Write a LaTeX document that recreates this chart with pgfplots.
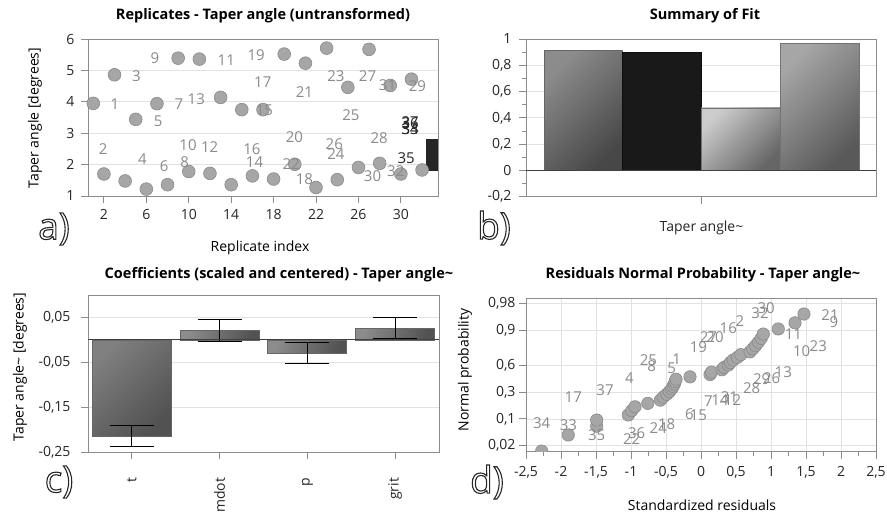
\documentclass[border=0pt]{standalone}
\usepackage{fontspec}
\setmainfont{Open Sans}
\usepackage{pgfplots}
\pgfplotsset{compat=1.18}

\definecolor{axgray}{HTML}{8C8C8C}
\definecolor{gridgray}{HTML}{E2E2E2}
\definecolor{lblgray}{HTML}{8A8A8A}
\definecolor{ballfill}{HTML}{A6A6A6}
\definecolor{balldraw}{HTML}{8A8A8A}

\newcommand\lblfont{\fontsize{15}{15}\selectfont}
\newcommand\letterfont{\fontsize{37}{37}\selectfont}
\newcommand\titlefont{\fontsize{14.5}{17}\selectfont\bfseries}
\newcommand\labfont{\fontsize{14}{16}\selectfont}

\newcommand\outl[2]{%
  \node[text=black!85, font=\letterfont] at #1 {\special{pdf:literal direct 1 Tr 1.1 w}#2\special{pdf:literal direct 0 Tr}};}

\pgfplotsset{
  panel/.style={
    scale only axis, anchor=south west,
    axis line style={axgray, line width=0.9pt},
    tick style={axgray, line width=0.9pt},
    tick align=outside, major tick length=7pt, minor tick length=4pt,
    tick pos=left,
    ticklabel style={font=\labfont, text=black!85},
    /pgf/number format/assume math mode=true,
    major grid style={gridgray, line width=0.8pt},
  },
  balls/.style={only marks, mark=*, mark size=6.4pt,
    mark options={fill=ballfill, draw=balldraw, line width=0.6pt}},
  lbls/.style={only marks, mark=none, nodes near coords, point meta=explicit symbolic,
    nodes near coords style={anchor=center, text=#1, font=\lblfont, inner sep=0pt}},
  cbar/.style={ybar, bar width=0.9, bar shift=0pt, draw=black!60, line width=0.8pt,
    error bars/y dir=both, error bars/y explicit,
    error bars/error bar style={black, line width=1.1pt},
    error bars/error mark options={rotate=90, mark size=22pt, line width=1.1pt, black}},
}

\begin{document}
\begin{tikzpicture}
\useasboundingbox (0,0) rectangle (887pt,512pt);

% ---------------- a ----------------
\begin{axis}[panel, at={(88pt,316pt)}, width=350pt, height=157pt,
  xmin=0.5, xmax=33.5, ymin=1, ymax=6,
  xtick={2,6,10,14,18,22,26,30}, ytick={1,2,3,4,5,6}, ymajorgrids,
  xticklabel shift=3pt, yticklabel shift=3pt]
\addplot[balls] table {
x y
1 3.95
2 1.70
3 4.86
4 1.48
5 3.44
6 1.22
7 3.94
8 1.36
9 5.39
10 1.78
11 5.36
12 1.72
13 4.14
14 1.36
15 3.75
16 1.64
17 3.75
18 1.54
19 5.52
20 2.01
21 5.23
22 1.27
23 5.71
24 1.52
25 4.46
26 1.91
27 5.67
28 2.04
29 4.52
30 1.70
31 4.72
32 1.83
};
\addplot[fill=black!85, draw=black!85] coordinates {(32.35,1.82) (34,1.82) (34,2.80) (32.35,2.80)} -- cycle;
\addplot[lbls=lblgray] table[meta=l] {
x y l
3.03 3.93 1
1.94 2.50 2
5.07 4.83 3
5.64 2.19 4
7.11 3.38 5
7.67 1.95 6
9.08 3.91 7
9.62 2.09 8
6.80 5.40 9
9.93 2.61 10
13.54 5.34 11
11.97 2.56 12
10.71 4.09 13
16.2 2.08 14
17.14 3.73 15
15.95 2.48 16
16.98 4.62 17
20.9 1.53 18
16.36 5.47 19
19.96 2.88 20
20.9 4.31 21
19.65 2.03 22
23.88 4.81 23
23.88 2.35 24
25.29 3.56 25
23.72 2.64 26
26.86 4.81 27
27.96 2.85 28
31.56 4.50 29
27.33 1.64 30
28.74 4.52 31
29.52 1.79 32
};
\addplot[lbls=black!85] table[meta=l] {
x y l
30.87 3.12 33
30.87 3.14 34
30.5 2.22 35
30.87 3.33 36
30.87 3.35 37
};
\end{axis}

% ---------------- b ----------------
\begin{axis}[panel, at={(526pt,315.3pt)}, width=350pt, height=157.7pt,
  xmin=-0.229, xmax=4.216, ymin=-0.2, ymax=1,
  ytick={-0.2,0,0.2,0.4,0.6,0.8,1},
  yticklabels={{-0,2},0,{0,2},{0,4},{0,6},{0,8},1},
  minor y tick num=1, ymajorgrids,
  xtick={2}, xticklabels={Taper angle\textasciitilde},
  xticklabel shift=14pt, yticklabel shift=4pt]
\addplot[ybar, bar width=1, bar shift=0pt, draw=black!60, line width=0.8pt,
  top color=black!45, bottom color=black!72, shading angle=45] coordinates {(0.5,0.915)};
\addplot[ybar, bar width=1, bar shift=0pt, draw=black!95, line width=0.8pt,
  fill=black!90] coordinates {(1.5,0.90)};
\addplot[ybar, bar width=1, bar shift=0pt, draw=black!55, line width=0.8pt,
  top color=black!20, bottom color=black!60, shading angle=45] coordinates {(2.5,0.475)};
\addplot[ybar, bar width=1, bar shift=0pt, draw=black!55, line width=0.8pt,
  top color=black!35, bottom color=black!65, shading angle=45] coordinates {(3.5,0.967)};
\addplot[black!75, line width=1pt] coordinates {(-0.229,0) (4.216,0)};
\end{axis}

% ---------------- c ----------------
\begin{axis}[panel, at={(88pt,59.7pt)}, width=351pt, height=157.3pt,
  xmin=-0.5, xmax=3.5, ymin=-0.25, ymax=0.1,
  ytick={-0.25,-0.15,-0.05,0.05},
  yticklabels={{-0,25},{-0,15},{-0,05},{0,05}}, ymajorgrids,
  xtick={0,1,2,3}, xticklabels={t,mdot,p,grit},
  xticklabel style={rotate=90, anchor=east},
  xticklabel shift=15pt, yticklabel shift=7pt]
\addplot[cbar, top color=black!50, bottom color=black!68, shading angle=45] coordinates {(0,-0.214) +- (0,0.023)};
\addplot[cbar, top color=black!45, bottom color=black!68, shading angle=70] coordinates {(1,0.021) +- (0,0.024)};
\addplot[cbar, top color=black!45, bottom color=black!68, shading angle=70] coordinates {(2,-0.029) +- (0,0.0235)};
\addplot[cbar, top color=black!45, bottom color=black!68, shading angle=70] coordinates {(3,0.026) +- (0,0.024)};
\addplot[black!75, line width=1pt] coordinates {(-0.5,0) (3.5,0)};
\end{axis}

% ---------------- d ----------------
\begin{axis}[panel, at={(526pt,60.3pt)}, width=350pt, height=153.4pt,
  xmin=-2.5, xmax=2.5, ymin=-2.227, ymax=2.198,
  xtick={-2.5,-2,-1.5,-1,-0.5,0,0.5,1,1.5,2,2.5},
  xticklabels={{-2,5},-2,{-1,5},-1,{-0,5},0,{0,5},1,{1,5},2,{2,5}},
  minor x tick num=1,
  ytick={-2.054,-1.2816,-0.5244,0.2533,1.2816,2.054},
  yticklabels={{0,02},{0,1},{0,3},{0,6},{0,9},{0,98}},
  xmajorgrids, ymajorgrids, clip marker paths=true,
  xticklabel shift=4pt]
\addplot[balls, mark size=6.2pt] table {
x y
-2.276 -2.21
-1.896 -1.745
-1.49 -1.49
-1.49 -1.313
-1.039 -1.167
-0.99 -1.042
-0.943 -0.932
-0.76 -0.832
-0.58 -0.740
-0.54 -0.653
-0.49 -0.572
-0.45 -0.493
-0.42 -0.418
-0.40 -0.345
-0.38 -0.274
-0.37 -0.204
-0.357 -0.136
-0.157 -0.068
0.129 0
0.15 0.068
0.30 0.136
0.33 0.204
0.39 0.274
0.42 0.345
0.46 0.418
0.52 0.493
0.57 0.572
0.70 0.653
0.74 0.740
0.78 0.832
0.82 0.932
0.86 1.042
0.89 1.167
1.104 1.313
1.343 1.49
1.471 1.745
1.63 2.21
};
\addplot[lbls=lblgray] table[meta=l] {
x y l
-2.276 -1.41 34
-1.895 -1.475 33
-1.49 -1.74 35
-1.824 -0.64 17
-1.371 -0.45 37
-1.024 -0.11 4
-0.752 0.42 25
-0.705 0.23 8
-0.419 0.18 5
-0.348 0.44 1
-0.038 0.78 19
0.105 1.07 27
0.2 1.07 20
0.39 1.33 16
0.557 1.54 2
0.843 1.76 32
0.93 1.91 30
1.843 1.72 21
1.9 1.52 9
1.319 1.17 11
1.676 0.82 23
1.438 0.66 10
1.176 0.08 13
1.01 -0.11 26
0.867 -0.13 29
0.724 -0.40 28
0.105 -0.78 7
0.271 -0.73 14
0.405 -0.64 31
0.45 -0.73 12
-0.167 -1.14 6
-0.038 -1.17 15
-0.49 -1.44 18
-0.61 -1.55 24
-0.919 -1.70 36
-0.99 -1.86 22
};
\end{axis}

% ---------------- texts ----------------
\node[font=\titlefont] at (263pt,496pt) {Replicates - Taper angle (untransformed)};
\node[font=\titlefont] at (705pt,496pt) {Summary of Fit};
\node[font=\titlefont] at (279pt,237pt) {Coefficients (scaled and centered) - Taper angle\textasciitilde};
\node[font=\titlefont] at (703pt,237pt) {Residuals Normal Probability - Taper angle\textasciitilde};

\node[font=\labfont] at (260pt,264pt) {Replicate index};
\node[font=\labfont, rotate=90] at (35pt,394pt) {Taper angle [degrees]};
\node[font=\labfont, rotate=90] at (20pt,145pt) {Taper angle\textasciitilde\ [degrees]};
\node[font=\labfont, rotate=90] at (465pt,142pt) {Normal probability};
\node[font=\labfont] at (702pt,7pt) {Standardized residuals};

\outl{(54pt,283pt)}{a)}
\outl{(494pt,284pt)}{b)}
\outl{(59pt,30pt)}{c)}
\outl{(487pt,30pt)}{d)}
\end{tikzpicture}
\end{document}
